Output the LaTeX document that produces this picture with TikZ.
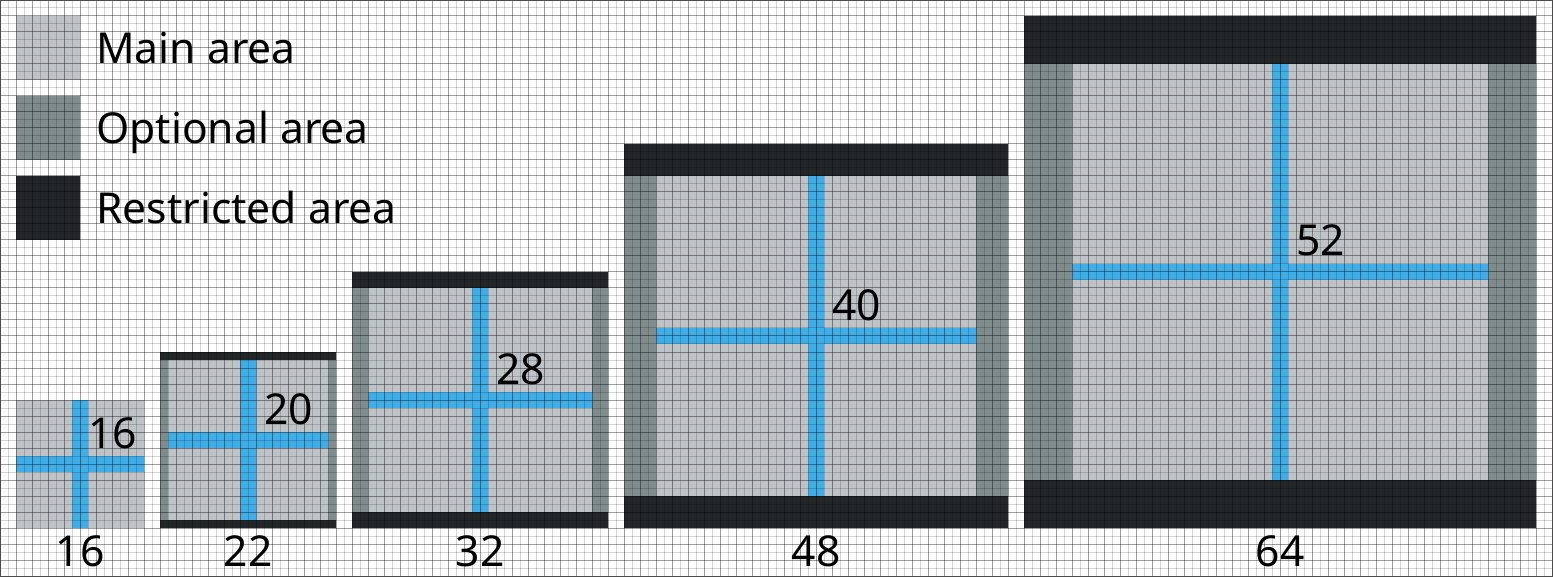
\documentclass[tikz,border=0pt]{standalone}
\usepackage{fontspec}
\setmainfont{Noto Sans}
\usepackage{tikz}
\usepackage{xcolor}

\definecolor{maingray}{HTML}{BDC3C7}
\definecolor{optgray}{HTML}{7F8C8D}
\definecolor{restrdark}{HTML}{232629}
\definecolor{crossblue}{HTML}{3DAEE9}

\tikzset{
  mainfill/.style={fill=maingray},
  optfill/.style={fill=optgray},
  restrfill/.style={fill=restrdark},
  barfill/.style={fill=crossblue},
  gridminor/.style={black, opacity=0.17, line width=1pt},
  gridmajor/.style={black, opacity=0.38, line width=1pt},
  numlabel/.style={font=\fontsize{42.6}{48}\selectfont, inner sep=0pt, anchor=base west},
  sizelabel/.style={font=\fontsize{42.6}{48}\selectfont, inner sep=0pt, anchor=base},
}

\begin{document}
\begin{tikzpicture}[x=8pt, y=-8pt]
    \useasboundingbox (0,0) rectangle (194.125,72.125);

    % Legend
    \fill[mainfill] (2,2) rectangle (10,10);
    \fill[optfill] (2,12) rectangle (10,20);
    \fill[restrfill] (2,22) rectangle (10,30);

    % Size 16 - main area only
    \fill[mainfill] (2,50) rectangle (18,66);
    \fill[barfill] (9,50) rectangle (11,66);
    \fill[barfill] (2,57) rectangle (18,59);

    % Size 22
    \fill[restrfill] (20,44) rectangle (42,45);
    \fill[restrfill] (20,65) rectangle (42,66);
    \fill[optfill] (20,45) rectangle (21,65);
    \fill[optfill] (41,45) rectangle (42,65);
    \fill[mainfill] (21,45) rectangle (41,65);
    \fill[barfill] (30,45) rectangle (32,65);
    \fill[barfill] (21,54) rectangle (41,56);

    % Size 32
    \fill[restrfill] (44,34) rectangle (76,36);
    \fill[restrfill] (44,64) rectangle (76,66);
    \fill[optfill] (44,36) rectangle (46,64);
    \fill[optfill] (74,36) rectangle (76,64);
    \fill[mainfill] (46,36) rectangle (74,64);
    \fill[barfill] (59,36) rectangle (61,64);
    \fill[barfill] (46,49) rectangle (74,51);

    % Size 48
    \fill[restrfill] (78,18) rectangle (126,22);
    \fill[restrfill] (78,62) rectangle (126,66);
    \fill[optfill] (78,22) rectangle (82,62);
    \fill[optfill] (122,22) rectangle (126,62);
    \fill[mainfill] (82,22) rectangle (122,62);
    \fill[barfill] (101,22) rectangle (103,62);
    \fill[barfill] (82,41) rectangle (122,43);

    % Size 64
    \fill[restrfill] (128,2) rectangle (192,8);
    \fill[restrfill] (128,60) rectangle (192,66);
    \fill[optfill] (128,8) rectangle (134,60);
    \fill[optfill] (186,8) rectangle (192,60);
    \fill[mainfill] (134,8) rectangle (186,60);
    \fill[barfill] (159,8) rectangle (161,60);
    \fill[barfill] (134,33) rectangle (186,35);

    % Grid on top
    \foreach \i in {1,3,...,193}
        \draw[gridminor] (\i,0) -- (\i,72.125);
    \foreach \i in {2,4,...,192}
        \draw[gridmajor] (\i,0) -- (\i,72.125);
    \foreach \j in {1,3,...,71}
        \draw[gridminor] (0,\j) -- (194.125,\j);
    \foreach \j in {2,4,...,70}
        \draw[gridmajor] (0,\j) -- (194.125,\j);

    % Frame
    \draw[black!70, line width=1pt] (0.0625,0.0625) rectangle (194.0625,72.0625);

    % Legend texts
    \node[numlabel] (legmain) at (12,8) {Main area};
    \node[numlabel] (legopt) at (12,18) {Optional area};
    \node[numlabel] (legrestr) at (12,28) {Restricted area};

    % Main area sizes
    \node[numlabel] (main16) at (11,56) {16};
    \node[numlabel] (main20) at (33,53) {20};
    \node[numlabel] (main28) at (62,48) {28};
    \node[numlabel] (main40) at (104,40) {40};
    \node[numlabel] (main52) at (162,32) {52};

    % Icon sizes
    \node[sizelabel] (size16) at (10,70.85) {16};
    \node[sizelabel] (size22) at (31,70.85) {22};
    \node[sizelabel] (size32) at (60,70.85) {32};
    \node[sizelabel] (size48) at (102,70.85) {48};
    \node[sizelabel] (size64) at (160,70.85) {64};
\end{tikzpicture}
\end{document}
